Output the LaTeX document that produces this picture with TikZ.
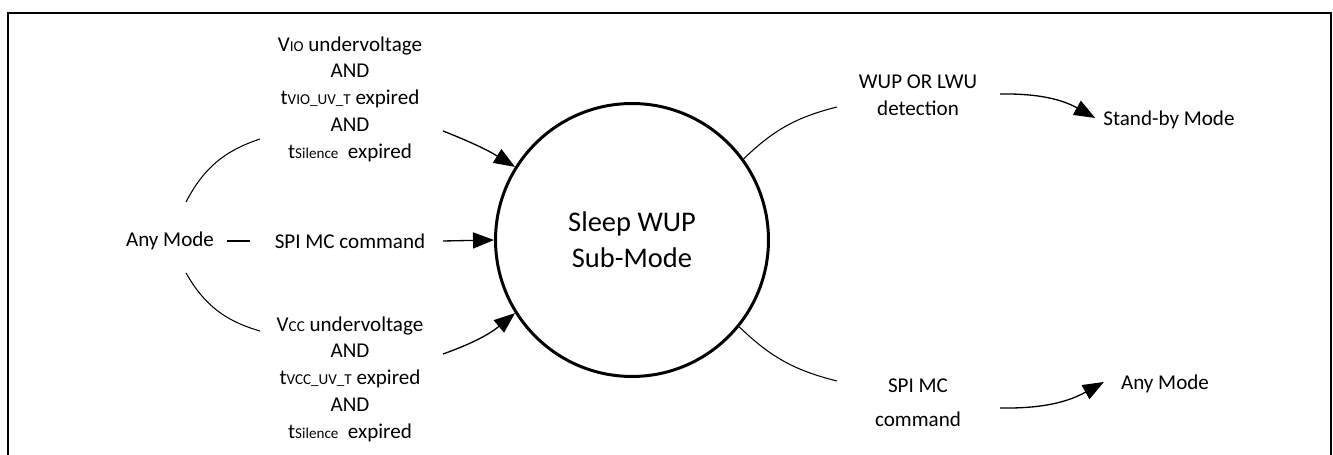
\documentclass[tikz,border=0pt]{standalone}
\usepackage{fontspec}
\setmainfont{Carlito}
\usetikzlibrary{arrows.meta}
\newcommand{\subtxt}[1]{{\fontsize{8.6pt}{9pt}\selectfont #1}}

\begin{document}
\begin{tikzpicture}[x=0.02cm,y=-0.02cm,
    lbl/.style={align=center,font=\fontsize{12pt}{15.2pt}\selectfont},
    line/.style={line width=0.6pt},
    arr/.style={line width=0.75pt,-{Triangle[length=0.42cm,width=0.32cm]}}]
    \useasboundingbox (0,0) rectangle (1333,455);
    % 外框
    \draw[line width=1.1pt] (8,455) -- (8,13) -- (1331,13) -- (1331,455);

    % 中间的圆
    \node (sleep) [circle,draw,line width=1.7pt,minimum size=5.46cm,inner sep=0pt,
      align=center,font=\fontsize{16.2pt}{20.5pt}\selectfont] at (632,240) {Sleep WUP\\Sub-Mode};

    % 左侧
    \node (anyl) [lbl] at (170,241) {Any Mode};
    \node (spi) [lbl] at (350,241) {SPI MC command};
    \node (vio) [lbl] at (350,99) {V\subtxt{IO} undervoltage\\AND\\t\subtxt{VIO\_UV\_T} expired\\AND\\t\subtxt{Silence}\ \ expired};
    \node (vcc) [lbl] at (350,379) {V\subtxt{CC} undervoltage\\AND\\t\subtxt{VCC\_UV\_T} expired\\AND\\t\subtxt{Silence}\ \ expired};

    \draw[line] ([shift={(16,-39)}]anyl.center) to[bend left=22] ([shift={(-90,40)}]vio.center);
    \draw[line] ([shift={(16,32)}]anyl.center) to[bend right=22] ([shift={(-90,-48)}]vcc.center);
    \draw[line] ([shift={(57,0)}]anyl.center) -- ([shift={(-100,0)}]spi.center);
    \draw[arr] ([shift={(93,32)}]vio.center) to[bend left=5] (sleep.148);
    \draw[arr] ([shift={(93,0)}]spi.center) -- (sleep.180);
    \draw[arr] ([shift={(93,-25)}]vcc.center) to[bend right=10] (sleep.212);

    % 右侧
    \node (wup) [lbl,font=\fontsize{12pt}{15.5pt}\selectfont] at (918,95) {WUP OR LWU\\detection};
    \node (standby) [lbl] at (1169,120) {Stand-by Mode};
    \node (cmd) [lbl,font=\fontsize{12pt}{19.4pt}\selectfont] at (918,403) {SPI MC\\command};
    \node (anyr) [lbl] at (1165,384) {Any Mode};

    \draw[line] (sleep.36) to[bend left=15] ([shift={(-81,12)}]wup.center);
    \draw[arr] ([shift={(82,-1)}]wup.center) to[bend left=15] ([shift={(-2,-2)}]standby.west);
    \draw[line] (sleep.321) to[bend right=15] ([shift={(-81,-22)}]cmd.center);
    \draw[arr] ([shift={(82,5)}]cmd.center) to[bend right=15] ([shift={(-11,-2)}]anyr.west);
\end{tikzpicture}
\end{document}
